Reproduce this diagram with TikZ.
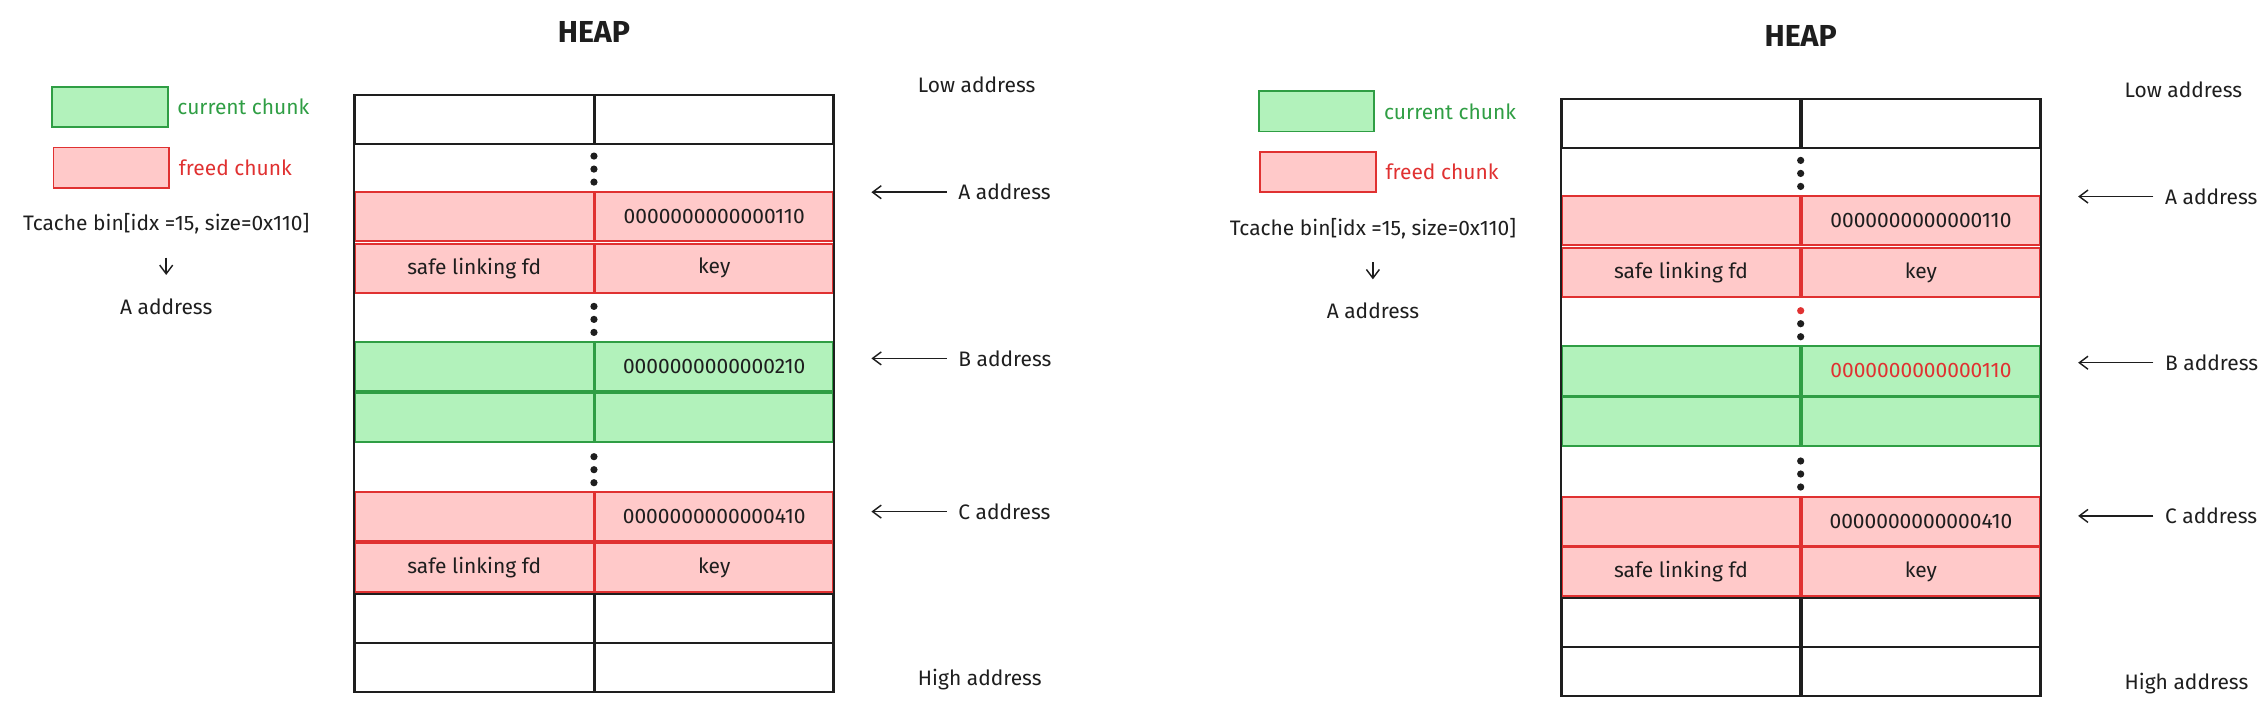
\documentclass[tikz,border=0pt]{standalone}
\usepackage{fontspec}
\setmainfont{Fira Sans}
\usetikzlibrary{positioning,arrows.meta}
\definecolor{curfill}{HTML}{B2F2BB}
\definecolor{curline}{HTML}{2F9E44}
\definecolor{freefill}{HTML}{FFC9C9}
\definecolor{freeline}{HTML}{E03131}
\definecolor{ink}{HTML}{1E1E1E}
\tikzset{
  txt/.style={font=\fontsize{14.5}{16}\selectfont, text=ink, inner sep=0pt},
  cell/.style={draw=ink, line width=1.4pt, minimum width=165pt, minimum height=34pt, inner sep=0pt, anchor=north west, txt},
  cur/.style={cell, draw=curline, fill=curfill},
  freed/.style={cell, draw=freeline, fill=freefill},
  dot/.style={circle, fill=ink, inner sep=0pt, minimum size=5pt},
  ptr/.style={-{Straight Barb[length=6pt,width=9pt]}, line width=1pt, ink},
}
% one heap panel: #1 prefix, #2 x shift, #3 y shift, #4 B value colour, #5 B value, #6 first dot colour
\newcommand{\heappanel}[6]{
\begin{scope}[shift={(#2,#3)}]
% legend
\node[draw=curline, fill=curfill, line width=1.2pt, minimum width=80pt, minimum height=28pt, inner sep=0pt] (#1lgc) at (76,74) {};
\node[txt, text=curline, anchor=west, right=6pt of #1lgc] {current chunk};
\node[draw=freeline, fill=freefill, line width=1.2pt, minimum width=80pt, minimum height=28pt, inner sep=0pt] (#1lgf) at (77,116) {};
\node[txt, text=freeline, anchor=west, right=6pt of #1lgf] {freed chunk};
\node[txt] (#1bin) at (115,155) {Tcache bin[idx =15, size=0x110]};
\node[txt] (#1bina) at (115,212) {A address};
\draw[ptr] ([yshift=-16pt]#1bin.south) -- ([yshift=16pt]#1bina.north);
\node[font=\bfseries\fontsize{21}{23}\selectfont, text=ink] at (411,22) {HEAP};
% table
\node[cell] (#1r1l) at (245,65) {};  \node[cell] (#1r1r) at (411,65) {};
\node[freed] (#1a1l) at (245,132) {}; \node[freed] (#1a1r) at (411,132) {0000000000000110};
\node[freed] (#1a2l) at (245,168) {safe linking fd}; \node[freed] (#1a2r) at (411,168) {key};
\node[cur] (#1b1l) at (245,236) {};  \node[cur] (#1b1r) at (411,236) {\textcolor{#4}{#5}};
\node[cur] (#1b2l) at (245,271) {};  \node[cur] (#1b2r) at (411,271) {};
\node[freed] (#1c1l) at (245,340) {}; \node[freed] (#1c1r) at (411,340) {0000000000000410};
\node[freed] (#1c2l) at (245,375) {safe linking fd}; \node[freed] (#1c2r) at (411,375) {key};
\node[cell] (#1r2l) at (245,410) {};  \node[cell] (#1r2r) at (411,410) {};
\node[cell] (#1r3l) at (245,444) {};  \node[cell] (#1r3r) at (411,444) {};
\draw[ink, line width=1.4pt] (#1r1l.north west) -- (#1r3l.south west);
\draw[ink, line width=1.4pt] (#1r1r.north east) -- (#1r3r.south east);
% dots
\foreach \y in {108,117,126} \node[dot] at (411,\y) {};
\foreach \y/\c in {212/#6,221/ink,230/ink} \node[dot, fill=\c] at (411,\y) {};
\foreach \y in {316,325,334} \node[dot] at (411,\y) {};
% addresses
\node[txt, anchor=west] at (635,59) {Low address};
\node[txt, anchor=west] at (635,470) {High address};
\node[txt, anchor=west] (#1pa) at (663,133) {A address};
\node[txt, anchor=west] (#1pb) at (663,248) {B address};
\node[txt, anchor=west] (#1pc) at (663,354) {C address};
\foreach \p in {#1pa,#1pb,#1pc} \draw[ptr] ([xshift=-8pt]\p.west) -- ++(-52pt,0);
\end{scope}
}
\begin{document}
\begin{tikzpicture}[x=1pt,y=-1pt]
\useasboundingbox (0,0) rectangle (1568,490);
\heappanel{l}{0}{0}{ink}{0000000000000210}{ink}
\heappanel{r}{835}{3}{freeline}{0000000000000110}{freeline}
\end{tikzpicture}
\end{document}
